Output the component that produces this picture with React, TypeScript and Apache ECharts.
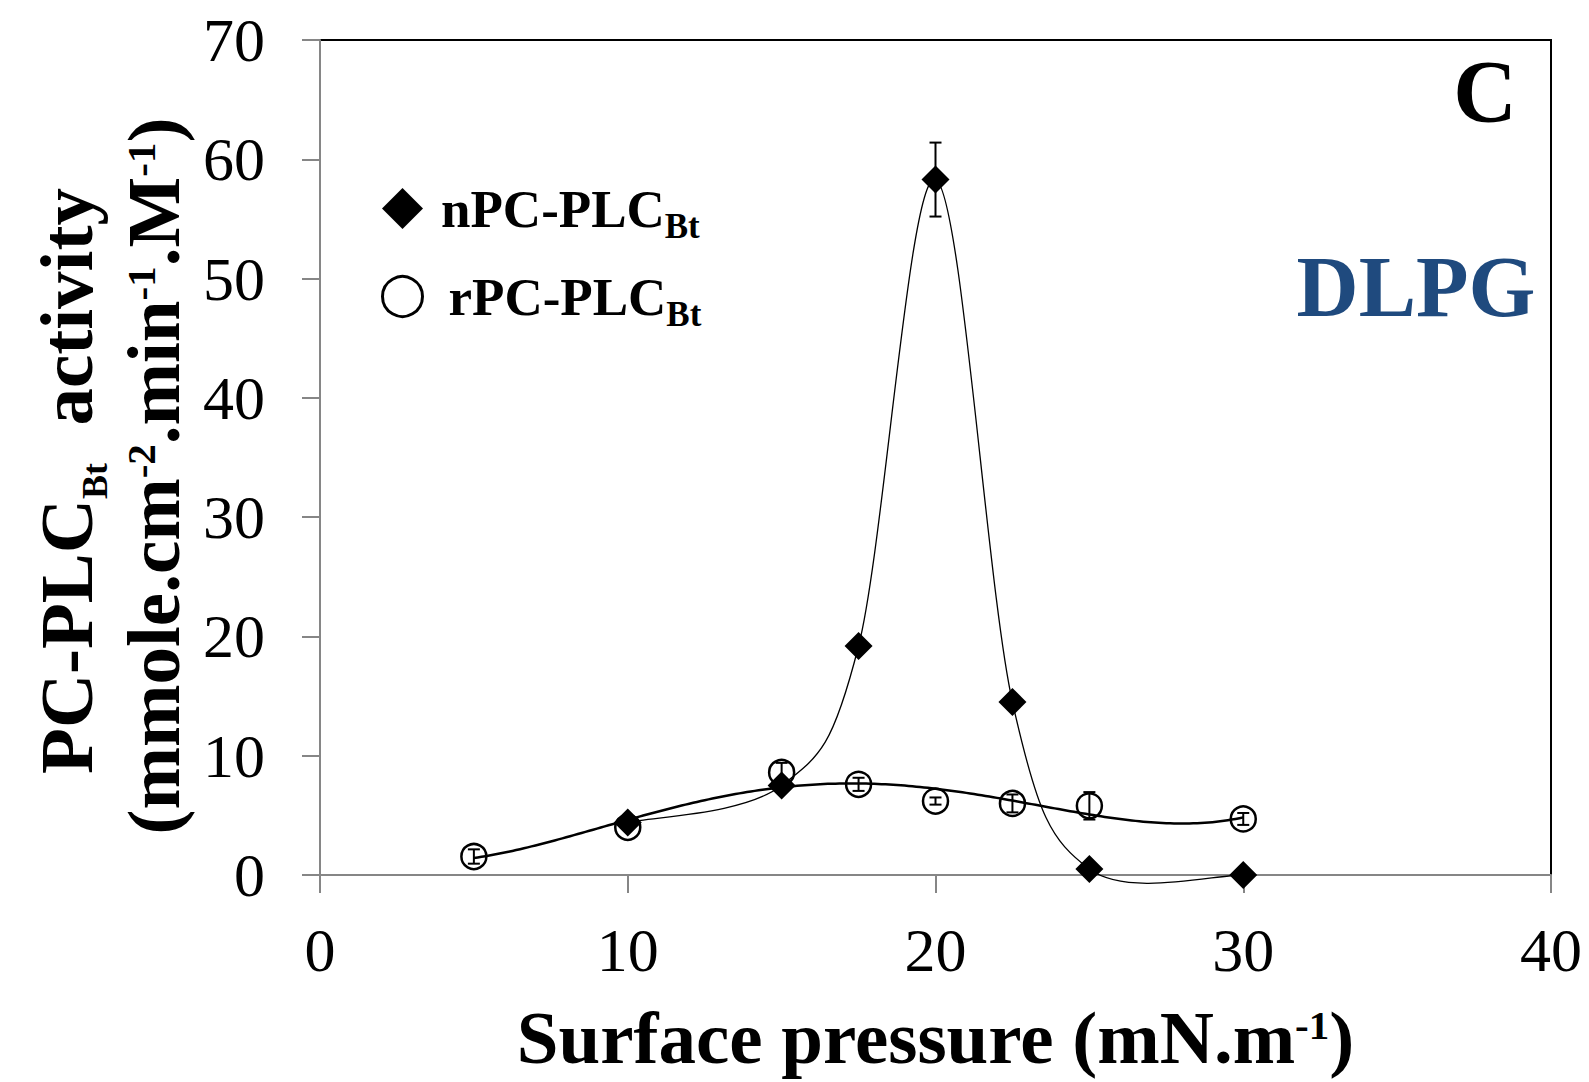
import React, { useEffect, useRef } from "react";
import * as echarts from "echarts";

// ---- data ----
const nPressure = [10, 15, 17.5, 20, 22.5, 25, 30];
const nActivity = [4.4, 7.5, 19.2, 58.3, 14.5, 0.5, 0];
const nError = [0, 0, 0, 3.1, 0, 0, 0];

const rPressure = [5, 10, 15, 17.5, 20, 22.5, 25, 30];
const rActivity = [1.55, 4.0, 8.6, 7.6, 6.2, 6.0, 5.8, 4.7];
const rError = [0.6, 0, 0.8, 0.55, 0.3, 0.75, 1.15, 0.5];

const xTicks = [0, 10, 20, 30, 40];
const yTicks = [0, 10, 20, 30, 40, 50, 60, 70];

const nName = "nPC-PLCBt";
const rName = "rPC-PLCBt";
const rTrendOrder = 4;

const FONT = "'Liberation Serif', 'Times New Roman', serif";

// least-squares polynomial trendline (like a spreadsheet polynomial trendline)
function polyFit(xs: number[], ys: number[], order: number): number[] {
  const m = order + 1;
  const A: number[][] = [];
  for (let r = 0; r < m; r++) A.push(new Array(m + 1).fill(0));
  for (let k = 0; k < xs.length; k++) {
    const x = xs[k] / 10;
    for (let r = 0; r < m; r++) {
      for (let c = 0; c < m; c++) A[r][c] += Math.pow(x, r + c);
      A[r][m] += ys[k] * Math.pow(x, r);
    }
  }
  for (let i = 0; i < m; i++) {
    let piv = i;
    for (let r = i + 1; r < m; r++) if (Math.abs(A[r][i]) > Math.abs(A[piv][i])) piv = r;
    const t = A[i];
    A[i] = A[piv];
    A[piv] = t;
    for (let r = 0; r < m; r++) {
      if (r === i) continue;
      const f = A[r][i] / A[i][i];
      for (let c = i; c <= m; c++) A[r][c] -= f * A[i][c];
    }
  }
  return A.map((row, i) => row[m] / row[i]);
}

function trendItem(xs: number[], ys: number[], order: number, lineWidth: number) {
  const coef = polyFit(xs, ys, order);
  return (params: any, api: any) => {
    if (params.dataIndex !== 0) return null;
    const x0 = Math.min(...xs);
    const x1 = Math.max(...xs);
    const pts: number[][] = [];
    const steps = 200;
    for (let s = 0; s <= steps; s++) {
      const x = x0 + ((x1 - x0) * s) / steps;
      let y = 0;
      for (let i = coef.length - 1; i >= 0; i--) y = y * (x / 10) + coef[i];
      pts.push(api.coord([x, y]));
    }
    return {
      type: "polyline",
      shape: { points: pts },
      style: { fill: "none", stroke: "#000", lineWidth },
      silent: true,
    };
  };
}

// smoothed line through the points (Catmull-Rom style Bezier segments)
function splineItem(xs: number[], ys: number[], lineWidth: number) {
  return (params: any, api: any) => {
    const i = params.dataIndex;
    const n = xs.length;
    if (i >= n - 1) return null;
    const p = (j: number) => {
      const k = Math.max(0, Math.min(n - 1, j));
      return api.coord([xs[k], ys[k]]);
    };
    const p0 = p(i - 1);
    const p1 = p(i);
    const p2 = p(i + 1);
    const p3 = p(i + 2);
    return {
      type: "bezierCurve",
      shape: {
        x1: p1[0],
        y1: p1[1],
        x2: p2[0],
        y2: p2[1],
        cpx1: p1[0] + (p2[0] - p0[0]) / 6,
        cpy1: p1[1] + (p2[1] - p0[1]) / 6,
        cpx2: p2[0] - (p3[0] - p1[0]) / 6,
        cpy2: p2[1] - (p3[1] - p1[1]) / 6,
      },
      style: { fill: "none", stroke: "#000", lineWidth },
      silent: true,
    };
  };
}

function errorItem(params: any, api: any) {
  const x = api.value(0);
  const y = api.value(1);
  const e = api.value(2);
  if (!e) return null;
  const top = api.coord([x, y + e]);
  const bot = api.coord([x, y - e]);
  const cap = 6;
  const st = { stroke: "#000", lineWidth: 2 };
  return {
    type: "group",
    children: [
      { type: "line", shape: { x1: top[0], y1: top[1], x2: bot[0], y2: bot[1] }, style: st },
      { type: "line", shape: { x1: top[0] - cap, y1: top[1], x2: top[0] + cap, y2: top[1] }, style: st },
      { type: "line", shape: { x1: bot[0] - cap, y1: bot[1], x2: bot[0] + cap, y2: bot[1] }, style: st },
    ],
  };
}

export default function App() {
  const ref = useRef<HTMLDivElement>(null);

  useEffect(() => {
    if (!ref.current) return;
    const chart = echarts.init(ref.current, null, { renderer: "svg" });

    const nPts = nPressure.map((x, i) => [x, nActivity[i]]);
    const rPts = rPressure.map((x, i) => [x, rActivity[i]]);
    const nErrPts = nPressure.map((x, i) => [x, nActivity[i], nError[i]]);
    const rErrPts = rPressure.map((x, i) => [x, rActivity[i], rError[i]]);

    const legendRich = (pad: number) => ({
      m: { fontFamily: FONT, fontWeight: "bold", fontSize: 53, lineHeight: 70, color: "#000", padding: [0, 0, 0, pad] },
      s: { fontFamily: FONT, fontWeight: "bold", fontSize: 35, lineHeight: 35, verticalAlign: "bottom", color: "#000" },
    });

    const titleRichSup = {
      m: { fontFamily: FONT, fontWeight: "bold", fontSize: 75, lineHeight: 66, fill: "#000" },
      p: { fontFamily: FONT, fontWeight: "bold", fontSize: 41, lineHeight: 41, verticalAlign: "top", fill: "#000" },
    };
    const titleRichSub = {
      m: { fontFamily: FONT, fontWeight: "bold", fontSize: 75, lineHeight: 94, fill: "#000" },
      s: { fontFamily: FONT, fontWeight: "bold", fontSize: 36, lineHeight: 36, verticalAlign: "bottom", fill: "#000" },
    };

    const option: any = {
      animation: false,
      backgroundColor: "#fff",
      grid: {
        left: 320,
        top: 40,
        width: 1231,
        height: 835,
        show: true,
        borderColor: "#000",
        borderWidth: 2,
        backgroundColor: "transparent",
        containLabel: false,
        outerBoundsMode: "none",
      },
      xAxis: {
        type: "value",
        min: xTicks[0],
        max: xTicks[xTicks.length - 1],
        interval: xTicks[1] - xTicks[0],
        axisLine: { show: true, onZero: false, lineStyle: { color: "#868686", width: 2 } },
        axisTick: { show: true, inside: false, length: 18, lineStyle: { color: "#868686", width: 2 } },
        splitLine: { show: false },
        axisLabel: { fontFamily: FONT, fontSize: 62, color: "#000", margin: 44 },
      },
      yAxis: {
        type: "value",
        min: yTicks[0],
        max: yTicks[yTicks.length - 1],
        interval: yTicks[1] - yTicks[0],
        axisLine: { show: true, onZero: false, lineStyle: { color: "#868686", width: 2 } },
        axisTick: { show: true, inside: false, length: 18, lineStyle: { color: "#868686", width: 2 } },
        splitLine: { show: false },
        axisLabel: { fontFamily: FONT, fontSize: 62, color: "#000", margin: 55 },
      },
      legend: [
        {
          data: [{ name: nName, icon: "diamond", itemStyle: { color: "#000" } }],
          left: 382,
          top: 182,
          padding: 0,
          itemWidth: 41,
          itemHeight: 41,
          selectedMode: false,
          formatter: () => "{m|nPC-PLC}{s|Bt}",
          textStyle: { rich: legendRich(13) },
        },
        {
          data: [
            {
              name: rName,
              icon: "circle",
              itemStyle: { color: "rgba(0,0,0,0)", borderColor: "#000", borderWidth: 3 },
            },
          ],
          left: 381,
          top: 270,
          padding: 0,
          itemWidth: 40,
          itemHeight: 40,
          selectedMode: false,
          formatter: () => "{m|rPC-PLC}{s|Bt}",
          textStyle: { rich: legendRich(21) },
        },
      ],
      graphic: [
        {
          type: "text",
          x: 935.5,
          y: 1037,
          style: {
            text: "{m|Surface pressure (mN.m}{p|-1}{m|)}",
            rich: titleRichSup,
            align: "center",
            verticalAlign: "middle",
          },
        },
        {
          type: "text",
          x: 66,
          y: 481,
          rotation: Math.PI / 2,
          style: {
            text: "{m|PC-PLC}{s|Bt}{m|\u00a0\u00a0activity}",
            rich: titleRichSub,
            align: "center",
            verticalAlign: "middle",
          },
        },
        {
          type: "text",
          x: 153,
          y: 476,
          rotation: Math.PI / 2,
          style: {
            text: "{m|(mmole.cm}{p|-2}{m|.min}{p|-1}{m|.M}{p|-1}{m|)}",
            rich: titleRichSup,
            align: "center",
            verticalAlign: "middle",
          },
        },
        {
          type: "text",
          x: 1485,
          y: 91,
          style: {
            text: "C",
            fontFamily: FONT,
            fontWeight: "bold",
            fontSize: 88,
            fill: "#000",
            align: "center",
            verticalAlign: "middle",
          },
        },
        {
          type: "text",
          x: 1416,
          y: 287,
          style: {
            text: "DLPG",
            fontFamily: FONT,
            fontWeight: "bold",
            fontSize: 86,
            fill: "#1F4A7E",
            align: "center",
            verticalAlign: "middle",
          },
        },
      ],
      series: [
        {
          name: "nCurve",
          type: "custom",
          data: nPts,
          encode: { x: 0, y: 1 },
          renderItem: splineItem(nPressure, nActivity, 1.3),
          clip: false,
          z: 2,
          silent: true,
        },
        {
          name: "rTrend",
          type: "custom",
          data: rPts,
          encode: { x: 0, y: 1 },
          renderItem: trendItem(rPressure, rActivity, rTrendOrder, 2.5),
          clip: false,
          z: 2,
          silent: true,
        },
        {
          name: rName,
          type: "scatter",
          data: rPts,
          symbol: "circle",
          symbolSize: 25,
          itemStyle: { color: "rgba(0,0,0,0)", borderColor: "#000", borderWidth: 2.5, opacity: 1 },
          z: 3,
        },
        {
          name: "rError",
          type: "custom",
          data: rErrPts,
          encode: { x: 0, y: 1 },
          renderItem: errorItem,
          z: 4,
          silent: true,
        },
        {
          name: nName,
          type: "scatter",
          data: nPts,
          symbol: "diamond",
          symbolSize: 28,
          itemStyle: { color: "#000", opacity: 1 },
          z: 5,
        },
        {
          name: "nError",
          type: "custom",
          data: nErrPts,
          encode: { x: 0, y: 1 },
          renderItem: errorItem,
          z: 6,
          silent: true,
        },
      ],
    };

    chart.setOption(option);
    return () => chart.dispose();
  }, []);

  return (
    <div
      ref={ref}
      style={{ position: "fixed", left: 0, top: 0, width: 1589, height: 1082, background: "#fff" }}
    />
  );
}
